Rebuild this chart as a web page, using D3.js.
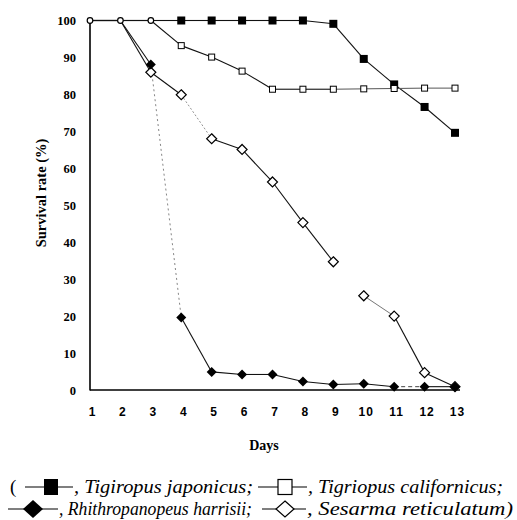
<!DOCTYPE html>
<html><head><meta charset="utf-8">
<script src="https://cdn.jsdelivr.net/npm/d3@7/dist/d3.min.js"></script>
<style>body{margin:0;background:#fff}svg{display:block}</style>
</head><body><svg id="c" width="517" height="520"></svg>
<script>
const days = [1,2,3,4,5,6,7,8,9,10,11,12,13];
const yTicks = [0,10,20,30,40,50,60,70,80,90,100];
const japonicus   = [100,100,100,100,100,100,100,100,99.1,89.6,82.7,76.6,69.6];
const californicus= [100,100,100,93.2,90.1,86.3,81.4,81.4,81.4,81.5,81.6,81.7,81.7];
const harrisii    = [100,100,88.1,19.6,4.9,4.2,4.2,2.3,1.5,1.7,0.9,0.9,0.9];
const reticulatum = [100,100,86.0,79.9,68.0,65.1,56.3,45.3,34.7,25.5,20.0,4.7,0.9];
const legendNames = ["Tigiropus japonicus;","Tigriopus californicus;","Rhithropanopeus harrisii;","Sesarma reticulatum)"];

const SERIF = "'Liberation Serif','Times New Roman',serif";
const SANS = "'Liberation Sans',Arial,sans-serif";
const svg = d3.select("#c");
const x = d3.scaleLinear().domain([1,13]).range([90,455]);
const y = d3.scaleLinear().domain([0,100]).range([390,20.5]);

svg.append("line").attr("x1",90).attr("x2",90).attr("y1",y(100)).attr("y2",y(0)+0.5).attr("stroke","#000").attr("stroke-width",1.6);
svg.append("line").attr("x1",90).attr("x2",460).attr("y1",y(0)).attr("y2",y(0)).attr("stroke","#000").attr("stroke-width",1.4);

svg.append("g").selectAll("text").data(yTicks).join("text")
  .attr("x",76).attr("y",d=>y(d)+4.5).attr("text-anchor","end")
  .style("font-family",SERIF).attr("font-weight","bold").attr("font-size",12.5)
  .text(d=>d);
svg.append("g").selectAll("text").data(days).join("text")
  .attr("x",d=>x(d)+2.5).attr("y",416).attr("text-anchor","middle")
  .style("font-family",SANS).attr("font-weight","bold").attr("font-size",12).attr("letter-spacing",1)
  .text(d=>d);
svg.append("text").attr("transform","translate(46,193) rotate(-90)").attr("text-anchor","middle")
  .style("font-family",SERIF).attr("font-weight","bold").attr("font-size",14.5).text("Survival rate (%)");
svg.append("text").attr("x",264).attr("y",450).attr("text-anchor","middle")
  .style("font-family",SERIF).attr("font-weight","bold").attr("font-size",14).text("Days");

const series = [
  {v:japonicus, m:"fsq"},
  {v:californicus, m:"osq"},
  {v:harrisii, m:"fdi"},
  {v:reticulatum, m:"odi"}
];
function segStyle(si,i){
  if(si===3 && i===8) return null;
  if(si===2 && i===2) return {c:"#777",w:0.9,d:"2,3"};
  if(si===3 && i===3) return {c:"#888",w:0.9,d:"2,2"};
  if(si===3 && i===9) return {c:"#666",w:0.9,d:null};
  if(si===2 && i===10) return {c:"#444",w:1,d:"4,3"};
  if(si===1 && i>=8) return {c:"#555",w:1,d:null};
  return {c:"#111",w:1.1,d:null};
}
const gl = svg.append("g");
series.forEach((s,si)=>{
  for(let i=0;i<s.v.length-1;i++){
    const st=segStyle(si,i); if(!st) continue;
    gl.append("line").attr("x1",x(days[i])).attr("y1",y(s.v[i])).attr("x2",x(days[i+1])).attr("y2",y(s.v[i+1]))
      .attr("stroke",st.c).attr("stroke-width",st.w).attr("stroke-dasharray",st.d);
  }
});
function marker(g,type,cx,cy){
  if(type==="fsq"){const s=8; g.append("rect").attr("x",cx-s/2).attr("y",cy-s/2).attr("width",s).attr("height",s).attr("fill","#000");}
  else if(type==="osq"){const s=6; g.append("rect").attr("x",cx-s/2).attr("y",cy-s/2).attr("width",s).attr("height",s).attr("fill","#fff").attr("stroke","#000").attr("stroke-width",1);}
  else if(type==="fdi"){const r=5; g.append("path").attr("d",`M${cx},${cy-r}L${cx+r},${cy}L${cx},${cy+r}L${cx-r},${cy}Z`).attr("fill","#000");}
  else if(type==="odi"){const r=5; g.append("path").attr("d",`M${cx},${cy-r}L${cx+r},${cy}L${cx},${cy+r}L${cx-r},${cy}Z`).attr("fill","#fff").attr("stroke","#000").attr("stroke-width",1.2);}
  else if(type==="circ"){g.append("circle").attr("cx",cx).attr("cy",cy).attr("r",2.8).attr("fill","#fff").attr("stroke","#000").attr("stroke-width",1.2);}
}
const gm = svg.append("g");
[0,1,3,2].forEach(si=>{
  const s=series[si];
  s.v.forEach((v,i)=>{
    if(v===100 && series.filter(o=>o.v[i]===100).length>1) return;
    marker(gm,s.m,x(days[i]),y(v));
  });
});
days.forEach((d,i)=>{
  if(series.filter(o=>o.v[i]===100).length>1) marker(gm,"circ",x(d),y(100));
});

const lg = svg.append("g");
function sym(type,x1,x2,cy,cx){
  lg.append("line").attr("x1",x1).attr("x2",x2).attr("y1",cy).attr("y2",cy).attr("stroke","#000").attr("stroke-width",1.2);
  if(type==="fsq") lg.append("rect").attr("x",cx-7).attr("y",cy-8).attr("width",14).attr("height",16).attr("fill","#000");
  if(type==="osq") lg.append("rect").attr("x",cx-7).attr("y",cy-7.5).attr("width",14).attr("height",15).attr("fill","#fff").attr("stroke","#000").attr("stroke-width",1.2);
  if(type==="fdi") lg.append("path").attr("d",`M${cx},${cy-9}L${cx+10},${cy}L${cx},${cy+9}L${cx-10},${cy}Z`).attr("fill","#000");
  if(type==="odi") lg.append("path").attr("d",`M${cx},${cy-8}L${cx+9},${cy}L${cx},${cy+8}L${cx-9},${cy}Z`).attr("fill","#fff").attr("stroke","#000").attr("stroke-width",1.2);
}
function txt(t,x0,x1,yb){
  lg.append("text").attr("x",x0).attr("y",yb).attr("textLength",x1-x0).attr("lengthAdjust","spacingAndGlyphs")
    .style("font-family",SERIF).style("font-style","italic").attr("font-size",19.5).text(t);
}
const L1=487, L2=509;
lg.append("text").attr("x",10).attr("y",L1+6).style("font-family",SERIF).attr("font-size",19).text("(");
sym("fsq",25,73,L1,51);
txt(", "+legendNames[0],74,253,L1+6);
sym("osq",258,307,L1,285);
txt(", "+legendNames[1],308,503,L1+6);
sym("fdi",8,58,L2,33);
txt(", "+legendNames[2],59,252,L2+6);
sym("odi",262,306,L2,285);
txt(", "+legendNames[3],307,513,L2+6);
</script></body></html>
